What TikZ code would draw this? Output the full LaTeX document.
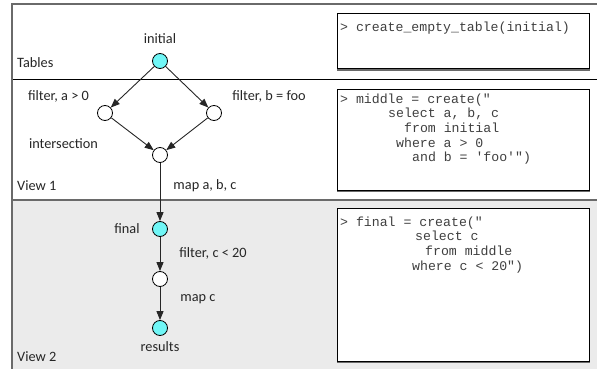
\documentclass[tikz,border=0pt]{standalone}
\usepackage{fontspec}
\setmainfont{Carlito}
\setmonofont{Liberation Mono}
\usetikzlibrary{arrows.meta}
\definecolor{cyanfill}{HTML}{70F6F6}
\definecolor{panelgray}{HTML}{EBEBEB}
\definecolor{framegray}{HTML}{6A6A6A}
\tikzset{
  opnode/.style={circle,draw=black,line width=0.8pt,fill=white,minimum size=15pt,inner sep=0pt},
  tablenode/.style={opnode,fill=cyanfill},
  lbl/.style={font=\fontsize{14.3}{16}\selectfont,text=black!85,inner sep=0pt},
  codebox/.style={draw=black,line width=0.8pt,fill=white,anchor=north west,inner sep=0pt},
  boxshadow/.style={draw=framegray,line width=1.3pt},
  codetxt/.style={font=\ttfamily\fontsize{13.2}{14.7}\selectfont,text=black!75,anchor=base west,inner sep=0pt},
  flow/.style={draw=black!85,line width=0.9pt,-{Triangle[length=9pt,width=7pt]}},
}
\begin{document}
\begin{tikzpicture}[x=1pt,y=-1pt]
\useasboundingbox (0,0) rectangle (597,369);
\clip (0,0) rectangle (597,369);
% panels
\fill[panelgray] (12,200) rectangle (600,372);
\draw[black,line width=0.9pt] (12,79) -- (600,79);
\draw[framegray,line width=1.3pt] (12,200) -- (600,200);
\draw[framegray,line width=1.6pt] (12,372) -- (12,4.3) -- (600,4.3);
% panel titles
\node[lbl,anchor=west] (tTables) at (17,63) {Tables};
\node[lbl,anchor=west] (tView1) at (17,186) {View 1};
\node[lbl,anchor=west] (tView2) at (17,357) {View 2};
% graph nodes
\node[tablenode] (init) at (160,61) {};
\node[opnode] (fa) at (105,113) {};
\node[opnode] (fb) at (214,113) {};
\node[opnode] (inter) at (160,155) {};
\node[tablenode] (final) at (160,229) {};
\node[opnode] (fc) at (160,279) {};
\node[tablenode] (res) at (160,328) {};
% edges
\draw[flow] (init) -- (fa);
\draw[flow] (init) -- (fb);
\draw[flow] (fa) -- (inter);
\draw[flow] (fb) -- (inter);
\draw[flow] (inter) -- (final);
\draw[flow] (final) -- (fc);
\draw[flow] (fc) -- (res);
% labels
\node[lbl] (linit) at (160,39) {initial};
\node[lbl] (lfa) at (58.5,96) {filter, a > 0};
\node[lbl] (lfb) at (269,96) {filter, b = foo};
\node[lbl] (linter) at (63.5,144) {intersection};
\node[lbl] (lmap1) at (205,186) {map a, b, c};
\node[lbl] (lfinal) at (127,229) {final};
\node[lbl] (lfc) at (213,253) {filter, c < 20};
\node[lbl] (lmapc) at (198,299) {map c};
\node[lbl] (lres) at (160,347) {results};
% code boxes
\node[codebox,minimum width=252pt,minimum height=55pt] (box1) at (337,13) {};
\node[codebox,minimum width=252pt,minimum height=101pt] (box2) at (337,88.5) {};
\node[codebox,minimum width=252pt,minimum height=153pt] (box3) at (337,207.5) {};
\draw[boxshadow] ([yshift=-1.3pt]box1.south west) -- ([yshift=-1.3pt]box1.south east);
\draw[boxshadow] ([yshift=-1.3pt]box2.south west) -- ([yshift=-1.3pt]box2.south east);
\draw[boxshadow] ([yshift=-1.3pt]box3.south west) -- ([yshift=-1.3pt]box3.south east);
% code text
\node[codetxt] (c1a) at (340,32) {> create\_empty\_table(initial)};
\node[codetxt] (c2a) at (340,103) {> middle = create("};
\node[codetxt] (c2b) at (388,117.7) {select a, b, c};
\node[codetxt] (c2c) at (404,132.4) {from initial};
\node[codetxt] (c2d) at (396,147.1) {where a > 0};
\node[codetxt] (c2e) at (412,161.8) {and b = 'foo'")};
\node[codetxt] (c3a) at (340,226) {> final = create("};
\node[codetxt] (c3b) at (415,240.7) {select c};
\node[codetxt] (c3c) at (425,255.4) {from middle};
\node[codetxt] (c3d) at (412,270.1) {where c < 20")};
\end{tikzpicture}
\end{document}
